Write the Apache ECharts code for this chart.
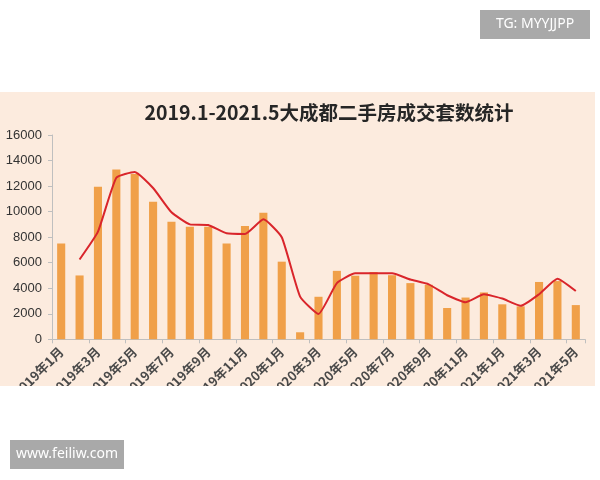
<!DOCTYPE html>
<html>
<head>
<meta charset="utf-8">
<script src="https://cdn.jsdelivr.net/npm/echarts@6/dist/echarts.min.js"></script>
<style>html,body{margin:0;padding:0;background:#fff;}#c{width:600px;height:480px;}</style>
</head>
<body>
<div id="c"></div>
<script>
var categories = ['2019年1月','2019年2月','2019年3月','2019年4月','2019年5月','2019年6月','2019年7月','2019年8月','2019年9月','2019年10月','2019年11月','2019年12月',
  '2020年1月','2020年2月','2020年3月','2020年4月','2020年5月','2020年6月','2020年7月','2020年8月','2020年9月','2020年10月','2020年11月','2020年12月',
  '2021年1月','2021年2月','2021年3月','2021年4月','2021年5月'];
var barValues = [7500,5000,11950,13300,12950,10780,9200,8820,8820,7500,8880,9920,
  6080,550,3330,5360,4980,5270,5020,4400,4270,2450,3270,3670,2740,2580,4490,4560,2680];
var lineValues = [null,6250,8430,12650,13100,11850,9950,9000,8950,8300,8250,9400,
  7990,3340,1980,4400,5170,5170,5170,4680,4300,3450,2900,3520,3190,2620,3530,4750,3780];
var yTicks = [0,2000,4000,6000,8000,10000,12000,14000,16000];
var titleText = '2019.1-2021.5大成都二手房成交套数统计';

var chart = echarts.init(document.getElementById('c'), null, {renderer:'canvas'});
chart.setOption({
  animation:false,
  backgroundColor:'#ffffff',
  title:{text:titleText,left:324,top:98,textAlign:'center',
    textStyle:{fontSize:19.5,fontWeight:'bold',color:'#262626',fontFamily:'Noto Sans CJK SC'}},
  grid:{left:52,right:15,top:135,bottom:140.7,containLabel:false},
  graphic:[
    {type:'rect',z:-10,silent:true,shape:{x:0,y:92,width:595,height:294},style:{fill:'#FCEBDE'}},
    {type:'rect',z:100,silent:true,shape:{x:0,y:386,width:600,height:94},style:{fill:'#ffffff'}},
    {type:'rect',z:100,silent:true,shape:{x:595,y:0,width:5,height:480},style:{fill:'#ffffff'}},
    {type:'rect',z:101,silent:true,shape:{x:480,y:10,width:110,height:29},style:{fill:'#A9A9A9'}},
    {type:'text',z:102,silent:true,x:535,y:24.5,style:{text:'TG: MYYJJPP',fill:'#ffffff',font:'14px "Noto Sans", sans-serif',align:'center',verticalAlign:'middle'}},
    {type:'rect',z:101,silent:true,shape:{x:10,y:440,width:114,height:29},style:{fill:'#A9A9A9'}},
    {type:'text',z:102,silent:true,x:67,y:454.5,style:{text:'www.feiliw.com',fill:'#ffffff',font:'14px "Noto Sans", sans-serif',align:'center',verticalAlign:'middle'}}
  ],
  xAxis:{type:'category',data:categories,boundaryGap:true,
    axisLine:{show:true,lineStyle:{color:'#BFBFBF',width:1}},
    axisTick:{show:true,interval:1,length:4,lineStyle:{color:'#BFBFBF'}},
    axisLabel:{interval:1,rotate:45,margin:10,fontSize:13,fontWeight:'bold',color:'#4a4a4a',fontFamily:'Noto Sans CJK SC'}},
  yAxis:{type:'value',min:0,max:16000,interval:2000,
    axisLine:{show:true,lineStyle:{color:'#BFBFBF',width:1}},
    axisTick:{show:true,length:4,lineStyle:{color:'#BFBFBF'}},
    splitLine:{show:false},
    axisLabel:{margin:10,fontSize:13,color:'#333333',fontFamily:'Liberation Sans',
      formatter:function(v){return yTicks.indexOf(v)>=0?String(v):'';}}},
  series:[
    {type:'bar',data:barValues,barWidth:'44%',itemStyle:{color:'#F0A049'}},
    {type:'line',data:lineValues,symbol:'none',smooth:0.15,connectNulls:false,
      lineStyle:{color:'#D9252B',width:2},z:5}
  ]
});
</script>
</body>
</html>
